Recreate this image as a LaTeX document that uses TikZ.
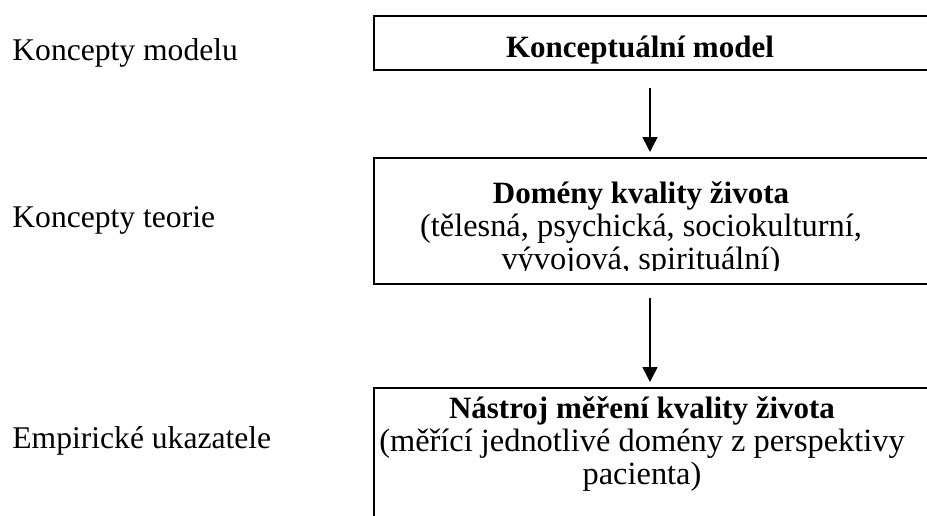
\documentclass[tikz,border=0pt]{standalone}
\usepackage{fontspec}
\setmainfont{Liberation Serif}
\usetikzlibrary{positioning, arrows.meta}
\newcommand{\ttlfont}{\fontsize{15.5}{16.4}\selectfont\bfseries}

\begin{document}
\begin{tikzpicture}[x=0.5pt, y=-0.5pt, font=\fontsize{16.2}{16.4}\selectfont,
  box/.style={draw=black, line width=1pt, minimum width=293.5pt, anchor=north west, inner sep=0pt},
  txt/.style={align=center, inner sep=0pt, anchor=base},
  lbl/.style={anchor=base west, inner sep=0pt, font=\fontsize{15.8}{16.4}\selectfont},
  arr/.style={-{Triangle[length=7.5pt, width=7.5pt]}, line width=0.75pt}
]
  \useasboundingbox (0,0) rectangle (927,515);
  \clip (0,0) rectangle (927,515);

  % left column
  \node[lbl] (lmodel) at (12,60) {Koncepty modelu};
  \node[lbl] (lteorie) at (12,227) {Koncepty teorie};
  \node[lbl] (lempir) at (12,448) {Empirické ukazatele};

  % boxes
  \node[box, minimum height=27pt] (model) at (373,15) {};
  \node[box, minimum height=63pt] (domeny) at (373,157) {};
  \node[box, minimum height=72pt] (nastroj) at (373,387) {};

  \node[txt, font=\ttlfont] (tmodel) at (640,57) {Konceptuální model};
  \begin{scope}
    \clip (373,157) rectangle (927,270);
    \node[txt] (tdomeny) at (641,269) {{\ttlfont Domény kvality života}\\
      (tělesná, psychická, sociokulturní,\\ vývojová, spirituální)};
  \end{scope}
  \node[txt] (tnastroj) at (642,484) {{\ttlfont Nástroj měření kvality života}\\
    (měřící jednotlivé domény z perspektivy\\ pacienta)};

  % arrows
  \coordinate (a1) at (650,88);
  \coordinate (b1) at (650,152);
  \coordinate (a2) at (650,298);
  \coordinate (b2) at (650,382);
  \draw[arr] (a1) -- (b1);
  \draw[arr] (a2) -- (b2);
\end{tikzpicture}
\end{document}
